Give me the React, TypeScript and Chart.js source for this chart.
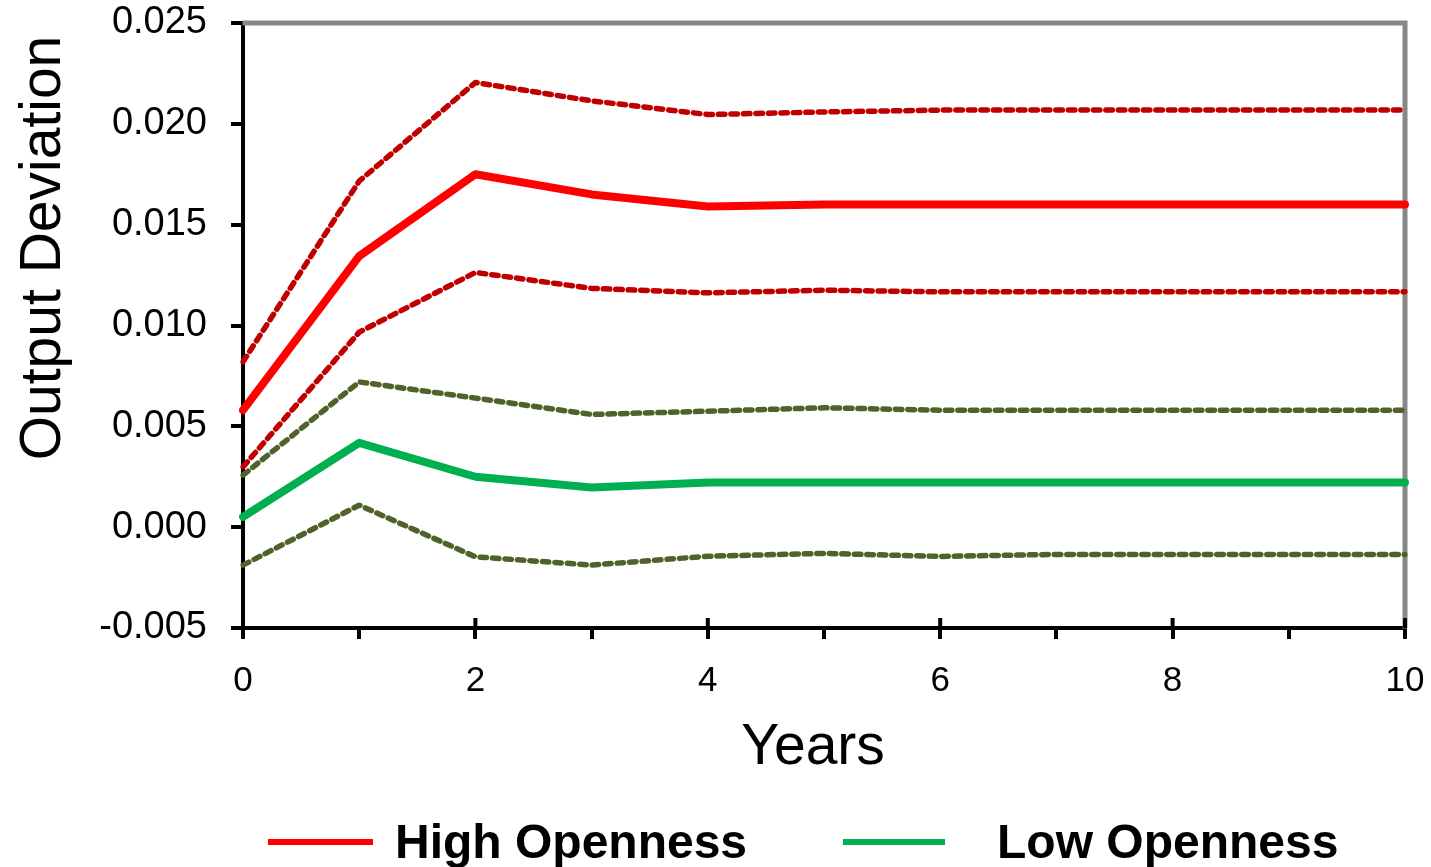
import React, { useEffect, useRef } from "react";
import { Chart, registerables } from "chart.js";

Chart.register(...registerables);

const years = ["0", "1", "2", "3", "4", "5", "6", "7", "8", "9", "10"];
const yTicks = [-0.005, 0, 0.005, 0.01, 0.015, 0.02, 0.025];

const highOpenness = [0.0058, 0.01344, 0.0175, 0.0165, 0.0159, 0.016, 0.016, 0.016, 0.016, 0.016, 0.016];
const highUpper = [0.0082, 0.01716, 0.02205, 0.02114, 0.02046, 0.02059, 0.02068, 0.02068, 0.02068, 0.02068, 0.02068];
const highLower = [0.00299, 0.00967, 0.01263, 0.01184, 0.01162, 0.01175, 0.01167, 0.01167, 0.01167, 0.01167, 0.01167];

const lowOpenness = [0.00051, 0.00418, 0.0025, 0.00197, 0.00222, 0.00222, 0.00222, 0.00222, 0.00222, 0.00222, 0.00222];
const lowUpper = [0.00258, 0.0072, 0.0064, 0.00559, 0.00575, 0.00592, 0.0058, 0.0058, 0.0058, 0.0058, 0.0058];
const lowLower = [-0.00188, 0.00109, -0.00147, -0.00188, -0.00144, -0.0013, -0.00145, -0.00135, -0.00135, -0.00135, -0.00135];

const legendItems = [
  { label: "High Openness", color: "#FF0000" },
  { label: "Low Openness", color: "#00B050" },
];

const FONT = "'Liberation Sans', Arial, sans-serif";

const zeroPad = (s: any) => {
  s.paddingTop = 0;
  s.paddingBottom = 0;
  s.paddingLeft = 0;
  s.paddingRight = 0;
};

const decorPlugin = {
  id: "decor",
  beforeDatasetsDraw(chart: any) {
    const ctx = chart.ctx;
    const a = chart.chartArea;
    ctx.save();
    ctx.strokeStyle = "#878787";
    ctx.lineWidth = 5;
    ctx.lineCap = "square";
    ctx.beginPath();
    ctx.moveTo(a.left + 2, a.top);
    ctx.lineTo(a.right, a.top);
    ctx.lineTo(a.right, a.bottom - 2);
    ctx.stroke();
    const xs = chart.scales.x;
    ctx.strokeStyle = "#000";
    ctx.lineWidth = 4;
    ctx.lineCap = "butt";
    years.forEach((y, i) => {
      if (Number(y) % 2 === 0) {
        const px = xs.getPixelForValue(i);
        ctx.beginPath();
        ctx.moveTo(px, a.bottom - 10);
        ctx.lineTo(px, a.bottom);
        ctx.stroke();
      }
    });
    ctx.restore();
  },
  afterDraw(chart: any) {
    const ctx = chart.ctx;
    ctx.save();
    ctx.fillStyle = "#000";
    ctx.font = `57px ${FONT}`;
    ctx.textAlign = "center";
    ctx.textBaseline = "alphabetic";
    ctx.save();
    ctx.translate(60, 248);
    ctx.rotate(-Math.PI / 2);
    ctx.fillText("Output Deviation", 0, 0);
    ctx.restore();
    ctx.fillText("Years", 813, 764);
    const pos = [
      { lx1: 268, lx2: 373, tx: 395 },
      { lx1: 843, lx2: 945, tx: 997 },
    ];
    ctx.font = `bold 48px ${FONT}`;
    ctx.textAlign = "left";
    legendItems.forEach((it, i) => {
      const p = pos[i];
      ctx.strokeStyle = it.color;
      ctx.lineWidth = 6;
      ctx.lineCap = "butt";
      ctx.beginPath();
      ctx.moveTo(p.lx1, 842);
      ctx.lineTo(p.lx2, 842);
      ctx.stroke();
      ctx.fillText(it.label, p.tx, 858);
    });
    ctx.restore();
  },
};

export default function App() {
  const ref = useRef<HTMLCanvasElement | null>(null);
  useEffect(() => {
    if (!ref.current) return;
    const dashed = (data: number[], color: string, label: string) => ({
      label,
      data,
      borderColor: color,
      backgroundColor: color,
      borderWidth: 5.5,
      borderDash: [6.5, 6],
      borderCapStyle: "round" as const,
      borderJoinStyle: "round" as const,
      pointRadius: 0,
      tension: 0,
      fill: false,
    });
    const solid = (data: number[], color: string, label: string) => ({
      label,
      data,
      borderColor: color,
      backgroundColor: color,
      borderWidth: 8,
      borderCapStyle: "round" as const,
      borderJoinStyle: "round" as const,
      pointRadius: 0,
      tension: 0,
      fill: false,
    });
    const chart = new Chart(ref.current, {
      type: "line",
      data: {
        labels: years,
        datasets: [
          dashed(highUpper, "#C00000", "High Openness upper"),
          solid(highOpenness, "#FF0000", "High Openness"),
          dashed(highLower, "#C00000", "High Openness lower"),
          dashed(lowUpper, "#4F6228", "Low Openness upper"),
          solid(lowOpenness, "#00B050", "Low Openness"),
          dashed(lowLower, "#4F6228", "Low Openness lower"),
        ],
      },
      options: {
        responsive: false,
        animation: false,
        devicePixelRatio: 1,
        layout: { padding: { left: 0, top: 23, right: 26, bottom: 0 } },
        plugins: {
          legend: { display: false },
          title: { display: false },
          tooltip: { enabled: false },
        },
        scales: {
          x: {
            type: "category",
            offset: false,
            afterFit: (s: any) => {
              s.height = 867 - 628;
              zeroPad(s);
            },
            border: { color: "#000", width: 4 },
            grid: {
              drawOnChartArea: false,
              drawTicks: true,
              tickLength: 11,
              tickColor: "#000",
              tickWidth: 4,
              color: "#000",
              lineWidth: 4,
            },
            ticks: {
              autoSkip: false,
              maxRotation: 0,
              padding: 21,
              color: "#000",
              font: { family: FONT, size: 35 },
              callback: (_v: any, i: number) => (Number(years[i]) % 2 === 0 ? years[i] : ""),
            },
          },
          y: {
            type: "linear",
            min: yTicks[0],
            max: yTicks[yTicks.length - 1],
            afterFit: (s: any) => {
              s.width = 243;
              zeroPad(s);
            },
            afterBuildTicks: (s: any) => {
              s.ticks = yTicks.map((v) => ({ value: v }));
            },
            border: { color: "#000", width: 4 },
            grid: {
              drawOnChartArea: false,
              drawTicks: true,
              tickLength: 12,
              tickColor: "#000",
              tickWidth: 4,
              color: "#000",
              lineWidth: 4,
            },
            ticks: {
              padding: 24,
              color: "#000",
              font: { family: FONT, size: 38 },
              callback: (v: any) => Number(v).toFixed(3),
            },
          },
        },
      },
      plugins: [decorPlugin],
    });
    return () => chart.destroy();
  }, []);
  return (
    <div style={{ position: "absolute", left: 0, top: 0, width: 1431, height: 867, background: "#fff" }}>
      <canvas ref={ref} width={1431} height={867} style={{ display: "block", width: 1431, height: 867 }} />
    </div>
  );
}
